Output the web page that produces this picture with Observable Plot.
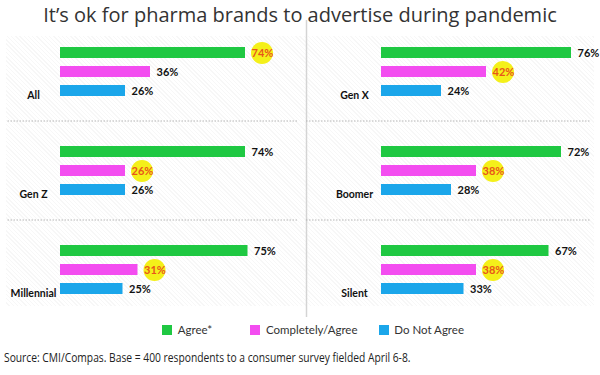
<!DOCTYPE html>
<html><head><meta charset="utf-8">
<script src="https://cdn.jsdelivr.net/npm/d3@7"></script>
<script src="https://cdn.jsdelivr.net/npm/@observablehq/plot@0.6"></script>
<style>
body{margin:0;background:#fff;width:600px;height:375px;overflow:hidden;position:relative;font-family:"Open Sans",sans-serif;}
#bg{position:absolute;top:36px;left:6px;width:588px;height:270px;background:repeating-linear-gradient(45deg,#fff 0,#fff 2px,#f7f7f7 2px,#f7f7f7 3px);}
#title{position:absolute;top:1px;left:0;width:600px;text-align:center;font-size:20px;color:#333;white-space:nowrap;}
#chart{position:absolute;top:20px;left:0;}
#legend{position:absolute;top:313px;left:162px;}
#caption{position:absolute;top:348px;left:4px;font-size:13px;color:#222;white-space:nowrap;transform:scaleX(0.79);transform-origin:0 50%;}
.lg-swatch:nth-of-type(1){margin-right:38px !important;}
.lg-swatch:nth-of-type(2){margin-right:21px !important;}
</style></head><body>
<div id="bg"></div>
<div id="title">It’s ok for pharma brands to advertise during pandemic</div>
<div id="chart"></div>
<div id="legend"></div>
<div id="caption">Source: CMI/Compas. Base = 400 respondents to a consumer survey fielded April 6-8.</div>
<script>
const groups = ["All", "Gen X", "Gen Z", "Boomer", "Millennial", "Silent"];
const series = ["Agree*", "Completely/Agree", "Do Not Agree"];
const agree = [74, 76, 74, 72, 75, 67];
const completely = [36, 42, 26, 38, 31, 38];
const notAgree = [26, 24, 26, 28, 25, 33];
const highlighted = ["Agree*", "Completely/Agree", "Completely/Agree", "Completely/Agree", "Completely/Agree", "Completely/Agree"];
const colors = ["#1fc842", "#f34df0", "#1ba6ea"];

const panels = groups.map((g, i) => ({group: g, col: i % 2, row: Math.floor(i / 2)}));
const rows = [];
groups.forEach((g, i) => {
  [agree, completely, notAgree].forEach((arr, j) => {
    rows.push({group: g, col: i % 2, row: Math.floor(i / 2), series: series[j], value: arr[i], hi: highlighted[i] === series[j]});
  });
});

const plot = Plot.plot({
  width: 600, height: 297,
  marginLeft: 60, marginRight: 19, marginTop: 0, marginBottom: 0,
  fx: {domain: [0, 1], paddingInner: 0.377, paddingOuter: 0, axis: null},
  fy: {domain: [0, 1, 2], paddingInner: 0, paddingOuter: 0, axis: null},
  x: {domain: [0, 80], axis: null},
  y: {domain: series, paddingInner: 0.43, paddingOuter: 1.28, align: 0.547, axis: null},
  color: {domain: series, range: colors},
  style: {background: "transparent", overflow: "visible"},
  marks: [
    Plot.ruleX(panels.filter(d => d.col === 1), {fx: "col", fy: "row", x: () => 0, dx: -75, stroke: "#d4d4d4", strokeWidth: 1.5}),
    Plot.ruleY(panels.filter(d => d.row > 0), {fx: "col", fy: "row", y: () => series[0], dy: -31,
      x1: d => d.col ? -30 : -21, x2: d => d.col ? 84 : 95, stroke: "#b5b5b5", strokeDasharray: "1.5,1.5"}),
    Plot.barX(rows, {fx: "col", fy: "row", y: "series", x: "value", fill: "series"}),
    Plot.dot(rows.filter(d => d.hi), {fx: "col", fy: "row", y: "series", x: "value", dx: 16.5, r: 11, fill: "#f4f01a"}),
    Plot.text(rows.filter(d => !d.hi), {fx: "col", fy: "row", y: "series", x: "value", text: d => d.value + "%",
      dx: 6, textAnchor: "start", fill: "#111", fontWeight: "bold", fontSize: 11, fontFamily: "Lato"}),
    Plot.text(rows.filter(d => d.hi), {fx: "col", fy: "row", y: "series", x: "value", text: d => d.value + "%",
      dx: 6, textAnchor: "start", fill: "#e8561a", fontWeight: "bold", fontSize: 11, fontFamily: "Lato"}),
    Plot.text(panels, {fx: "col", fy: "row", y: () => series[2], x: () => 0, dx: -27, dy: 5, text: "group",
      textAnchor: "middle", fill: "#111", fontWeight: "bold", fontSize: 10.5, fontFamily: "Lato"})
  ]
});
document.getElementById("chart").appendChild(plot);

const legend = Plot.legend({
  color: {domain: series, range: colors},
  legend: "swatches", swatchSize: 10, className: "lg",
  style: {fontSize: "11.5px", fontFamily: "Lato", color: "#333"}
});
document.getElementById("legend").appendChild(legend);
</script>
</body></html>
